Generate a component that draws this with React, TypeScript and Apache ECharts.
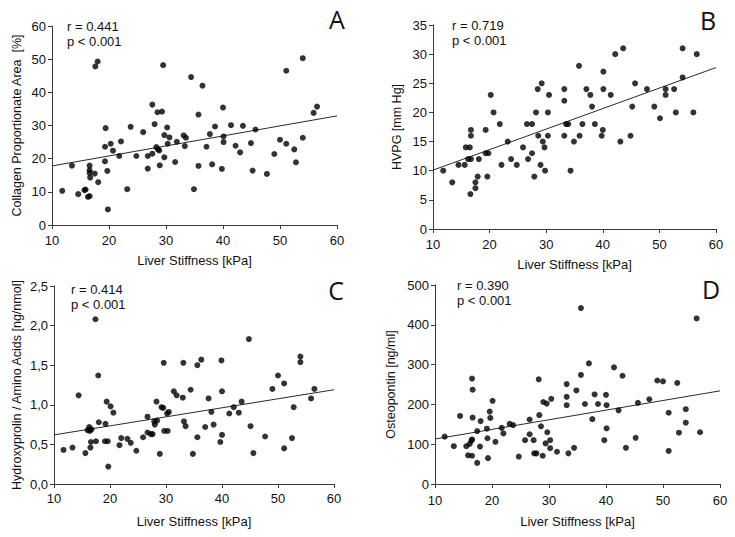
import React, { useEffect, useRef } from 'react';
import * as echarts from 'echarts';

// Liver stiffness (kPa) vs. four markers
const panelA: number[][] = [
  [11.8,10.3],[13.5,17.9],[14.6,9.3],[15.7,10.5],[15.9,10.7],[16.3,8.5],[16.6,8.7],[16.6,17.9],[16.6,16.5],[16.6,15.7],
  [16.7,14.3],[17.5,15.5],[17.6,47.8],[18.0,49.3],[18.1,12.9],[19.4,29.2],[19.3,19.2],[19.3,23.6],[19.7,16.3],[19.8,4.7],
  [20.3,24.5],[20.7,22.4],[21.8,20.8],[22.1,25.2],[23.2,10.8],[23.8,29.6],[24.8,20.8],[26.0,28.0],[26.8,20.8],[26.8,17.0],
  [27.6,36.3],[27.6,21.5],[28.0,30.4],[28.3,23.5],[28.5,34.0],[28.6,22.8],[28.8,22.5],[29.3,34.2],[28.9,18.0],[29.5,48.2],
  [29.7,27.1],[29.7,20.4],[30.2,29.4],[30.3,24.5],[30.6,26.4],[31.6,19.0],[31.9,25.1],[33.1,27.0],[33.3,23.8],[33.5,26.3],
  [34.4,44.6],[34.9,10.8],[35.7,33.3],[35.7,17.8],[36.4,42.0],[40.0,35.4],[38.6,29.7],[37.7,27.4],[37.1,23.6],[38.1,18.3],
  [39.8,16.9],[40.1,26.7],[40.1,25.0],[41.4,30.1],[42.2,23.9],[43.0,21.9],[43.5,29.9],[44.9,24.7],[45.2,16.4],[45.7,28.8],
  [47.7,15.4],[49.0,21.4],[50.0,25.7],[51.1,46.5],[51.1,24.5],[52.5,22.8],[52.8,18.9],[54.0,50.3],[54.0,26.3],[55.9,33.8],
  [56.5,35.7]
];
const panelB: number[][] = [
  [11.8,10],[13.4,8],[14.5,11],[15.6,11],[15.8,14],[16.5,14],[16.6,6],[16.7,16],[16.7,17],[16.2,12],[16.7,12],[17.5,8],
  [17.5,7],[17.9,9],[18.1,12],[19.3,17],[19.3,13],[19.8,13],[19.6,9],[20.2,23],[20.7,20],[21.8,18],[22.1,11],[23.2,15],
  [23.8,12],[24.8,11],[25.9,14],[26.6,18],[26.8,12],[27.5,18],[27.5,13],[27.9,9],[28.2,20],[28.5,24],[28.6,16],[29.2,25],
  [29.0,11],[29.4,15],[29.7,14],[29.8,10],[30.3,16],[30.3,20],[30.5,23],[33.2,24],[33.2,22],[33.2,16],[33.5,18],[33.9,18],
  [34.3,10],[34.9,15],[35.8,28],[35.9,16],[36.4,18],[37.1,24],[37.8,23],[38.1,21],[38.6,18],[39.8,16],[40.0,17],[40.1,27],
  [40.1,24],[41.4,23],[42.2,30],[43.6,31],[43.1,15],[44.9,16],[45.2,21],[45.7,25],[47.8,24],[49.1,21],[50.1,19],[51.1,24],
  [51.1,23],[52.6,24],[52.9,20],[54.1,31],[54.1,26],[56.0,20],[56.6,30]
];
const panelC: number[][] = [
  [11.7,0.43],[13.3,0.46],[14.4,1.12],[15.6,0.39],[16.0,0.68],[16.3,0.72],[16.4,0.67],[16.5,0.46],[16.6,0.53],[16.7,0.69],
  [17.4,2.08],[17.5,0.54],[17.9,1.37],[18.0,0.78],[19.1,0.54],[19.2,0.76],[19.4,1.04],[19.6,0.54],[19.7,0.22],[20.1,0.98],
  [20.6,0.90],[21.7,0.49],[22.0,0.58],[23.1,0.57],[23.7,0.52],[24.7,0.42],[25.9,0.59],[26.7,0.85],[26.7,0.65],[27.3,0.63],
  [27.6,0.63],[27.9,0.79],[28.0,0.75],[28.3,1.04],[28.4,0.80],[28.9,0.38],[29.2,0.97],[29.5,0.96],[29.6,1.53],[29.7,0.67],
  [30.2,0.89],[30.3,0.67],[30.5,0.91],[31.4,1.17],[31.9,1.12],[33.0,1.09],[33.1,1.53],[33.2,0.79],[33.5,0.73],[34.4,1.19],
  [34.8,0.38],[35.6,1.50],[35.6,0.59],[36.3,1.57],[37.0,0.72],[37.6,1.08],[38.1,0.91],[38.5,0.75],[39.9,1.56],[40.0,1.17],
  [39.7,0.53],[40.0,0.62],[41.3,0.89],[42.1,0.97],[43.0,0.90],[43.5,1.04],[44.8,1.83],[45.1,0.73],[45.6,0.39],[47.7,0.60],
  [49.0,1.20],[50.0,1.37],[51.1,1.27],[51.1,0.45],[52.5,0.58],[52.8,0.97],[54.0,1.61],[54.0,1.54],[55.9,1.08],[56.5,1.20]
];
const panelD: number[][] = [
  [11.7,119],[13.3,95],[14.4,171],[15.5,95],[15.8,72],[16.1,101],[16.4,109],[16.5,112],[16.5,265],[16.6,237],[16.6,167],
  [16.5,71],[17.4,53],[17.4,133],[17.9,94],[18.0,158],[19.1,139],[19.2,115],[19.3,65],[19.6,182],[19.7,166],[20.1,209],
  [20.6,106],[21.7,141],[22.0,127],[23.1,151],[23.7,148],[24.7,69],[25.8,110],[26.6,162],[26.6,125],[27.3,110],[27.4,77],
  [27.8,77],[28.2,263],[28.3,173],[28.6,145],[28.9,71],[29.0,206],[29.4,102],[29.6,202],[29.7,130],[30.2,90],[30.2,110],
  [30.4,214],[31.4,81],[33.1,251],[33.1,219],[33.1,198],[33.4,77],[34.4,91],[34.8,235],[35.6,442],[35.6,274],[36.3,201],
  [37.0,303],[37.6,163],[38.0,225],[38.6,201],[39.7,110],[40.0,224],[40.1,198],[40.1,140],[41.4,293],[42.2,185],[42.9,272],
  [43.5,91],[45.2,116],[45.6,204],[47.6,213],[49.0,260],[50.0,258],[51.0,179],[51.0,83],[52.5,254],[52.8,129],[54.0,188],
  [54.0,154],[55.9,416],[56.5,130]
];

const trendA = [[10, 17.8], [60, 32.9]];
const trendB = [[10, 10.1], [60, 27.7]];
const trendC = [[10, 0.62], [60, 1.19]];
const trendD = [[10, 113], [60, 234]];

const panelLetters = ['A', 'B', 'C', 'D'];
const rValues = ['r = 0.441', 'r = 0.719', 'r = 0.414', 'r = 0.390'];
const pValues = ['p < 0.001', 'p < 0.001', 'p < 0.001', 'p < 0.001'];
const yNames = ['Collagen Proportionate Area  [%]', 'HVPG [mm Hg]', 'Hydroxyprolin / Amino Acids [ng/nmol]', 'Osteopontin [ng/ml]'];
const xName = 'Liver Stiffness [kPa]';
const xRange = [10, 60, 10];
const yRanges = [[0, 60, 10], [0, 35, 5], [0, 2.5, 0.5], [0, 500, 100]];

const FONT = '"Liberation Sans", Arial, sans-serif';
const TXT = '#111';
const AX = '#3a3a3a';

// layout
const grids = [
  { left: 52, top: 26, width: 285, height: 199 },
  { left: 433, top: 25, width: 283, height: 204 },
  { left: 54, top: 286, width: 280, height: 198 },
  { left: 435, top: 285, width: 285, height: 199 },
];
const yNameGaps = [29, 30, 31, 38];
const xNameGaps = [29, 29, 31, 31];
const xLabelMargins = [9, 9, 8, 10];
const annPos = [[67, 26], [452, 25], [71, 289], [457, 285]];
const letterPos = [[337, 19], [708, 20], [336, 290], [711, 289]];

export default function App() {
  const ref = useRef<HTMLDivElement>(null);
  useEffect(() => {
    if (!ref.current) return;
    const chart = echarts.init(ref.current, null, { renderer: 'svg' });
    const datasets = [panelA, panelB, panelC, panelD];
    const trends = [trendA, trendB, trendC, trendD];

    const axisCommon = {
      axisLine: { show: true, onZero: false, lineStyle: { color: AX, width: 1 } },
      axisTick: { show: true, length: 4, lineStyle: { color: AX, width: 1 } },
      splitLine: { show: false },
    };

    const xAxis = grids.map((_, i) => ({
      type: 'value',
      gridIndex: i,
      min: xRange[0], max: xRange[1], interval: xRange[2],
      name: xName,
      nameLocation: 'middle',
      nameGap: xNameGaps[i],
      nameTextStyle: { color: TXT, fontSize: 13, fontFamily: FONT },
      axisLabel: { color: TXT, fontSize: 13, fontFamily: FONT, margin: xLabelMargins[i] },
      ...axisCommon,
    }));
    const yAxis = grids.map((_, i) => ({
      type: 'value',
      gridIndex: i,
      min: yRanges[i][0], max: yRanges[i][1], interval: yRanges[i][2],
      name: yNames[i],
      nameLocation: 'middle',
      nameGap: yNameGaps[i],
      nameTextStyle: { color: TXT, fontSize: 12.5, fontFamily: FONT },
      axisLabel: {
        color: TXT, fontSize: 13, fontFamily: FONT, margin: 6,
        formatter: i === 2 ? (v: number) => v.toFixed(1).replace('.', ',') : (v: number) => String(v),
      },
      ...axisCommon,
    }));

    const series: any[] = [];
    datasets.forEach((d, i) => {
      series.push({
        type: 'line', xAxisIndex: i, yAxisIndex: i, data: trends[i],
        symbol: 'none', lineStyle: { color: '#2a2a2a', width: 1 }, silent: true, z: 1,
      });
      series.push({
        type: 'scatter', xAxisIndex: i, yAxisIndex: i, data: d,
        symbol: 'circle', symbolSize: 6, itemStyle: { color: '#000' }, z: 2,
      });
    });

    const graphic: any[] = [];
    for (let i = 0; i < 4; i++) {
      graphic.push({
        type: 'text', x: annPos[i][0], y: annPos[i][1],
        style: { text: rValues[i], fill: TXT, fontSize: 13, fontFamily: FONT, textAlign: 'left', textVerticalAlign: 'middle' },
      });
      graphic.push({
        type: 'text', x: annPos[i][0], y: annPos[i][1] + 15,
        style: { text: pValues[i], fill: TXT, fontSize: 13, fontFamily: FONT, textAlign: 'left', textVerticalAlign: 'middle' },
      });
      graphic.push({
        type: 'text', x: letterPos[i][0], y: letterPos[i][1],
        style: { text: panelLetters[i], fill: '#111', fontSize: 25, fontFamily: '"Open Sans", sans-serif', textAlign: 'center', textVerticalAlign: 'middle' },
      });
    }

    chart.setOption({
      animation: false,
      backgroundColor: '#fff',
      grid: grids,
      xAxis,
      yAxis,
      series,
      graphic,
    });
    return () => chart.dispose();
  }, []);
  return <div ref={ref} style={{ position: 'fixed', left: 0, top: 0, width: 735, height: 537 }} />;
}
